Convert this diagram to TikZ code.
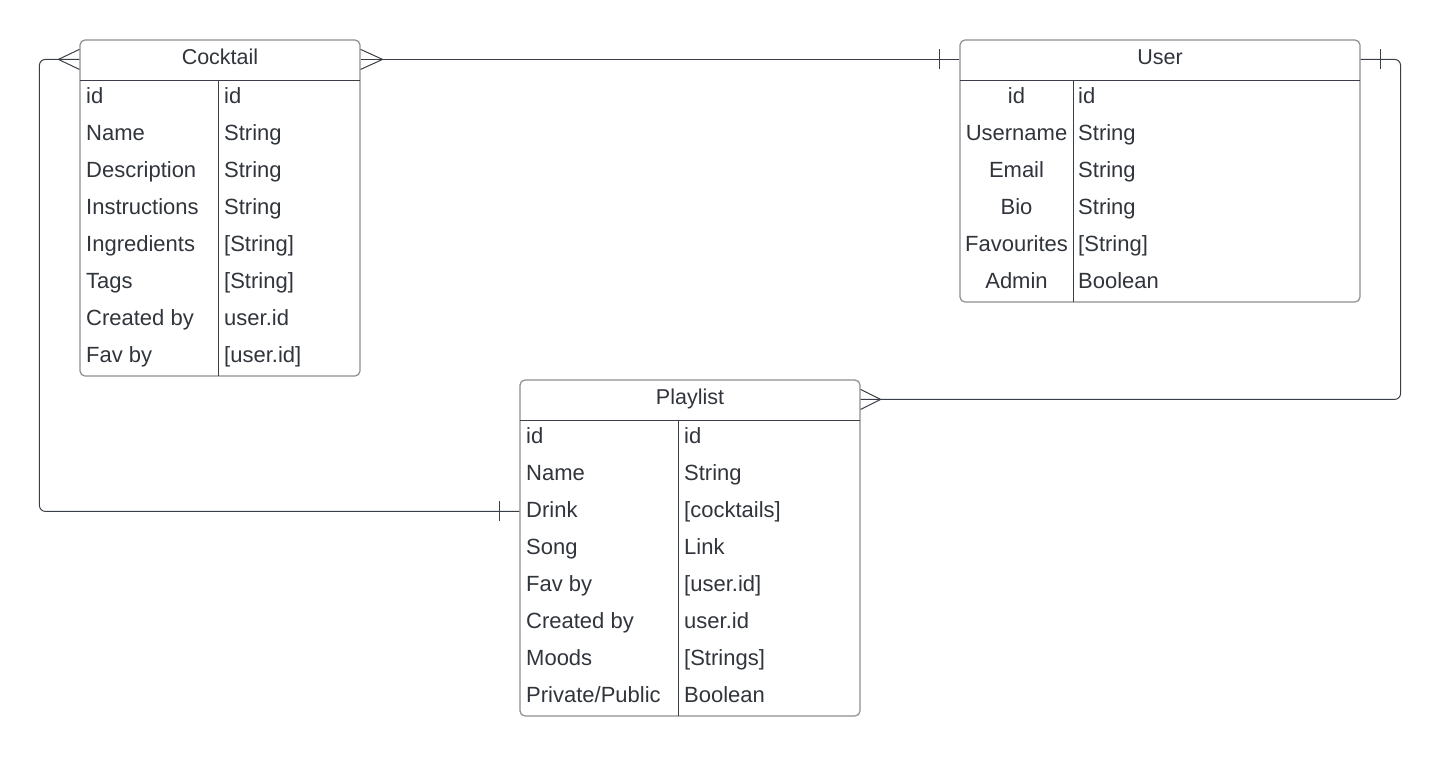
\documentclass[tikz,border=0pt]{standalone}
\usepackage{fontspec}
\setmainfont{Liberation Sans}
\usetikzlibrary{calc}
\definecolor{txt}{HTML}{30343B}
\definecolor{boxedge}{HTML}{8E8E8E}
\definecolor{ln}{HTML}{3A3E46}
\begin{document}
\begin{tikzpicture}[x=1pt,y=-1pt,
  tbl/.style={draw=boxedge, line width=1.2pt, rounded corners=5pt, inner sep=0pt},
  sep/.style={draw=ln, line width=1pt},
  conn/.style={draw=ln, line width=1pt},
  lbl/.style={text=txt, font=\fontsize{22}{26}\selectfont, inner sep=0pt, anchor=base west},
  clbl/.style={text=txt, font=\fontsize{22}{26}\selectfont, inner sep=0pt, anchor=base},
  ttl/.style={text=txt, font=\fontsize{21.5}{26}\selectfont, inner sep=0pt, anchor=base}]
\useasboundingbox (0,0) rectangle (1441,756);

% Cocktail
\node[tbl, minimum width=280pt, minimum height=336pt] (ck) at (220,208) {};
\draw[sep] (80,80) -- (360,80);
\draw[sep] (218,80) -- (218,376);
\node[ttl] (ckt) at (220,64) {Cocktail};
\foreach \a/\b [count=\i from 0] in {id/id, Name/String, Description/String, Instructions/String, Ingredients/[String], Tags/[String], Created by/user.id, Fav by/[user.id]}{
  \node[lbl] (ckl\i) at (86,{103.5+37*\i}) {\a};
  \node[lbl] (ckr\i) at (224,{103.5+37*\i}) {\b};
}

% User
\node[tbl, minimum width=400pt, minimum height=262pt] (us) at (1160,171) {};
\draw[sep] (960,80) -- (1360,80);
\draw[sep] (1073,80) -- (1073,302);
\node[ttl] (ust) at (1160,64) {User};
\foreach \a/\b [count=\i from 0] in {id/id, Username/String, Email/String, Bio/String, Favourites/[String], Admin/Boolean}{
  \node[clbl] (usl\i) at (1016.5,{103.5+37*\i}) {\a};
  \node[lbl] (usr\i) at (1078,{103.5+37*\i}) {\b};
}

% Playlist
\node[tbl, minimum width=340pt, minimum height=336pt] (pl) at (690,548) {};
\draw[sep] (520,420) -- (860,420);
\draw[sep] (678,420) -- (678,716);
\node[ttl] (plt) at (690,404) {Playlist};
\foreach \a/\b [count=\i from 0] in {id/id, Name/String, Drink/[cocktails], Song/Link, Fav by/[user.id], Created by/user.id, Moods/[Strings], Private\slash Public/Boolean}{
  \node[lbl] (pll\i) at (526,{443.5+37*\i}) {\a};
  \node[lbl] (plr\i) at (684,{443.5+37*\i}) {\b};
}

% connection points
\coordinate (ckR) at ($(ck.north east)+(0,20)$);
\coordinate (ckL) at ($(ck.north west)+(0,20)$);
\coordinate (usL) at ($(us.north west)+(0,20)$);
\coordinate (usR) at ($(us.north east)+(0,20)$);
\coordinate (plR) at ($(pl.north east)+(0,20)$);
\coordinate (plL) at ($(pl.north west)+(0,132)$);

% Cocktail -- User
\draw[conn] (ckR) -- (usL);
\draw[conn] ($(ckR)+(0,-10)$) -- ($(ckR)+(22,0)$) -- ($(ckR)+(0,10)$);
\draw[conn] ($(usL)+(-20,-10)$) -- ($(usL)+(-20,10)$);

% User -- Playlist
\draw[conn, rounded corners=6pt] (usR) -- ++(40,0) |- (plR);
\draw[conn] ($(usR)+(20,-10)$) -- ($(usR)+(20,10)$);
\draw[conn] ($(plR)+(0,-10)$) -- ($(plR)+(20,0)$) -- ($(plR)+(0,10)$);

% Cocktail -- Playlist
\draw[conn, rounded corners=6pt] (ckL) -- ++(-40,0) |- (plL);
\draw[conn] ($(ckL)+(0,-10)$) -- ($(ckL)+(-21,0)$) -- ($(ckL)+(0,10)$);
\draw[conn] ($(plL)+(-20,-10)$) -- ($(plL)+(-20,10)$);
\end{tikzpicture}
\end{document}
